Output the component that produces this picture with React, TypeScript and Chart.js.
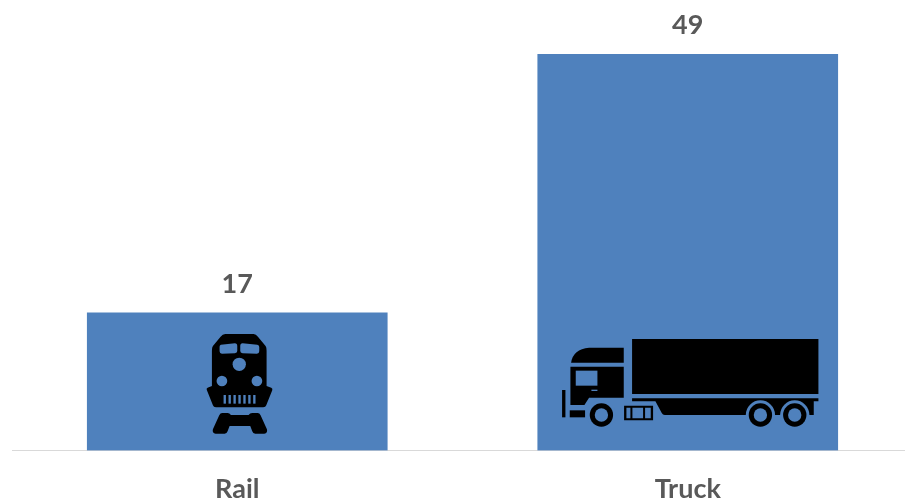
import React, { useEffect, useRef } from "react";
import { Chart, registerables } from "chart.js";

Chart.register(...registerables);

const categories = ["Rail", "Truck"];
const values = [17, 49];

const BAR_BLUE = "#4f81bd";
const TEXT_GREY = "#595959";
const FONT_FAMILY = "Lato, 'Open Sans', sans-serif";

// Both pictograms are authored at 3 units per pixel, relative to the box given to each draw call.
function drawTrain(ctx: CanvasRenderingContext2D, fill: string) {
  ctx.fillStyle = "#000";
  const body = new Path2D(
    "M105 42 L190 42 Q197 42 203 50 L226 78 Q229 82 229 92 L229 198 L243 203 Q248 205 246 211 L228 256 Q226 262 219 262 L77 262 Q70 262 68 256 L50 211 Q47 205 52 203 L65 198 L65 92 Q65 82 68 78 L91 50 Q97 42 105 42 Z"
  );
  ctx.fill(body);
  const bogie = new Path2D(
    "M96 279 L112 279 Q118 279 122 285 L175 285 Q179 279 186 279 L202 279 Q208 279 211 286 L230 328 Q233 340 222 341 L195 341 Q188 341 186 334 L180 318 L118 318 L112 334 Q110 341 103 341 L76 341 Q65 340 68 328 L87 286 Q90 279 96 279 Z"
  );
  ctx.fill(bogie);

  ctx.fillStyle = fill;
  const windows = new Path2D(
    "M92 74 L134 70 Q141 70 141 78 L141 93 Q141 99 134 100 L95 101 Q88 101 88 94 L88 80 Q88 75 92 74 Z M157 70 L201 74 Q207 75 207 81 L207 94 Q207 101 200 101 L157 100 Q150 99 150 93 L150 78 Q150 70 157 70 Z"
  );
  ctx.fill(windows);
  for (const [cx, cy, r] of [[147, 133, 20], [95, 183, 16], [200, 183, 16]]) {
    ctx.beginPath();
    ctx.arc(cx, cy, r, 0, Math.PI * 2);
    ctx.fill();
  }
  for (let i = 0; i < 7; i++) {
    ctx.fillRect(100 + i * 14.8, 225, 7, 26);
  }
}

function drawTruck(ctx: CanvasRenderingContext2D, fill: string) {
  ctx.fillStyle = "#000";
  ctx.fillRect(247, 42, 559, 165);
  ctx.fill(new Path2D("M64 113 Q70 72 118 68 L222 68 L222 113 Z"));
  ctx.fill(new Path2D("M62 125 L222 125 L222 218 L118 218 L104 240 L62 240 Z"));
  ctx.fillRect(37, 195, 10, 82);
  ctx.fillRect(60, 256, 46, 21);
  ctx.fill(new Path2D("M247 220 L806 220 L806 229 L792 229 L792 270 L345 270 Q339 270 336 264 L317 229 L247 229 Z"));

  // Cab window and door handle
  ctx.fillStyle = fill;
  ctx.fillRect(78, 137, 65, 45);
  ctx.fillRect(125, 194, 18, 4);

  // Fuel tank
  ctx.fillStyle = "#000";
  ctx.fill(new Path2D("M223 242 L310 242 L310 286 L223 286 Z M230 248 L230 280 L242 280 L242 248 Z M248 248 L248 280 L280 280 L280 248 Z M286 248 L286 280 L303 280 L303 248 Z"), "evenodd");

  for (const cx of [155, 632, 735]) {
    ctx.fillStyle = fill;
    ctx.beginPath();
    ctx.arc(cx, 270, 44, 0, Math.PI * 2);
    ctx.fill();
    ctx.fillStyle = "#000";
    ctx.beginPath();
    ctx.arc(cx, 270, 35, 0, Math.PI * 2);
    ctx.fill();
    ctx.fillStyle = fill;
    ctx.beginPath();
    ctx.arc(cx, 270, 20, 0, Math.PI * 2);
    ctx.fill();
  }
}

// Pictogram for each category, with its box offset from the bar's centre and base.
const pictograms = [
  { draw: drawTrain, dx: -47, dy: -130.5 },
  { draw: drawTruck, dx: -138, dy: -125.5 },
];

const barDecorations = {
  id: "barDecorations",
  afterDatasetsDraw(chart: Chart) {
    const { ctx } = chart;
    const bars = chart.getDatasetMeta(0).data as any[];
    bars.forEach((bar, i) => {
      const icon = pictograms[i];
      ctx.save();
      ctx.translate(bar.x + icon.dx, bar.base + icon.dy);
      ctx.scale(1 / 3, 1 / 3);
      icon.draw(ctx, BAR_BLUE);
      ctx.restore();

      ctx.save();
      ctx.fillStyle = TEXT_GREY;
      ctx.font = `bold 27px ${FONT_FAMILY}`;
      ctx.textAlign = "center";
      ctx.textBaseline = "middle";
      ctx.fillText(String(values[i]), bar.x, bar.y - 28.5);
      ctx.restore();
    });
  },
};

export default function App() {
  const canvasRef = useRef<HTMLCanvasElement>(null);

  useEffect(() => {
    if (!canvasRef.current) return;
    const chart = new Chart(canvasRef.current, {
      type: "bar",
      data: {
        labels: categories,
        datasets: [{ data: values, backgroundColor: BAR_BLUE, borderWidth: 0, barThickness: 300 }],
      },
      options: {
        animation: false,
        responsive: false,
        layout: { padding: { top: 54, left: 12, right: 1, bottom: 0 } },
        plugins: { legend: { display: false }, tooltip: { enabled: false } },
        scales: {
          y: { display: false, min: 0, max: 49 },
          x: {
            grid: { display: false, drawTicks: false },
            border: { color: "#d9d9d9", width: 1 },
            ticks: {
              color: TEXT_GREY,
              padding: 23,
              font: { family: FONT_FAMILY, size: 27, weight: "bold" },
              maxRotation: 0,
            },
            afterFit(scale: any) {
              scale.height = 48.5;
            },
          },
        },
      },
      plugins: [barDecorations],
    });
    return () => chart.destroy();
  }, []);

  return (
    <div style={{ position: "fixed", left: 0, top: 0, width: 905, height: 499, overflow: "hidden", background: "#fff" }}>
      <canvas ref={canvasRef} width={914} height={499} style={{ display: "block" }} />
    </div>
  );
}
